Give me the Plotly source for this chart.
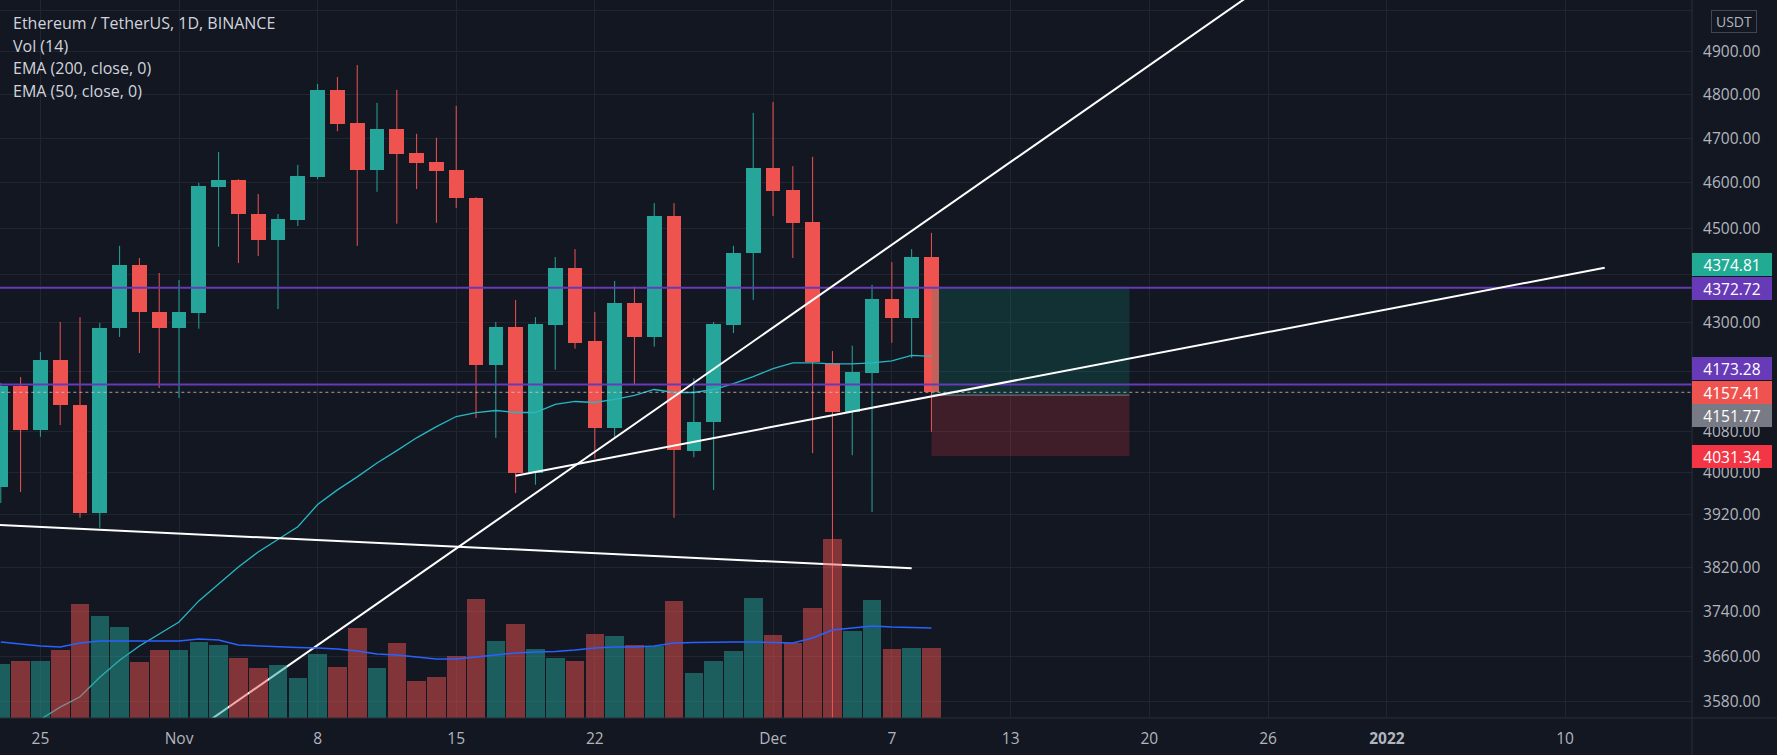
import numpy as np
import pandas as pd
import plotly.graph_objects as go

# ---------------- data ----------------
dates = pd.date_range("2021-10-23", periods=48, freq="D")
opens = [3972, 4170, 4083, 4223, 4132, 3922, 4289, 4421, 4322, 4289,
         4320, 4591, 4606, 4531, 4475, 4518, 4613, 4811, 4735, 4628,
         4721, 4667, 4646, 4628, 4566, 4213, 4291, 3999, 4295, 4415,
         4262, 4087, 4341, 4270, 4527, 4041, 4098, 4295, 4447, 4633,
         4584, 4514, 4217, 4118, 4197, 4349, 4309, 4438]
highs = [4176, 4188, 4239, 4301, 4311, 4299, 4462, 4436, 4404, 4389,
         4600, 4669, 4608, 4575, 4531, 4640, 4825, 4841, 4869, 4781,
         4811, 4710, 4701, 4774, 4568, 4301, 4347, 4311, 4438, 4455,
         4322, 4387, 4375, 4555, 4555, 4186, 4301, 4462, 4758, 4783,
         4637, 4658, 4241, 4252, 4379, 4427, 4455, 4490]
lows = [3941, 3962, 4069, 4092, 3913, 3894, 4270, 4237, 4166, 4146,
        4287, 4460, 4425, 4440, 4328, 4505, 4608, 4716, 4462, 4580,
        4510, 4586, 4512, 4544, 4106, 4067, 3960, 3976, 4203, 4246,
        4027, 4069, 4172, 4250, 3913, 4029, 3966, 4278, 4347, 4527,
        4436, 4037, 3500, 4033, 3924, 4258, 4227, 4079]
closes = [4170, 4083, 4223, 4132, 3922, 4289, 4421, 4322, 4289, 4322,
          4593, 4606, 4531, 4475, 4520, 4615, 4811, 4733, 4628, 4721,
          4665, 4644, 4626, 4566, 4213, 4291, 3999, 4297, 4415, 4258,
          4087, 4341, 4270, 4527, 4043, 4098, 4297, 4447, 4633, 4582,
          4512, 4219, 4118, 4199, 4349, 4309, 4438, 4157.41]
volumes = [324000, 342000, 342000, 408000, 684000, 612000, 546000, 336000, 408000, 408000,
           456000, 438000, 360000, 300000, 318000, 240000, 384000, 306000, 540000, 300000,
           450000, 222000, 246000, 372000, 714000, 462000, 564000, 414000, 360000, 342000,
           504000, 492000, 438000, 432000, 702000, 270000, 342000, 402000, 720000, 498000,
           450000, 660000, 1074000, 522000, 708000, 414000, 420000, 420000]
vol_ma = [456000, 444000, 432000, 426000, 450000, 462000, 462000, 462000, 462000, 462000,
          474000, 468000, 438000, 432000, 426000, 423000, 420000, 414000, 402000, 384000,
          378000, 366000, 354000, 354000, 366000, 378000, 390000, 396000, 399000, 408000,
          420000, 426000, 426000, 432000, 450000, 453000, 456000, 456000, 456000, 453000,
          450000, 480000, 528000, 540000, 552000, 546000, 543000, 540000]
ema50 = [3515, 3532, 3550, 3571, 3589, 3623, 3653, 3678, 3699, 3721,
         3759, 3790, 3821, 3849, 3872, 3896, 3938, 3966, 3991, 4018,
         4042, 4067, 4089, 4109, 4117, 4121, 4117, 4117, 4133, 4139,
         4137, 4143, 4151, 4163, 4157, 4157, 4163, 4175, 4189, 4205,
         4217, 4217, 4215, 4215, 4217, 4221, 4232, 4230]

# horizontal levels / position tool
level_top = 4372.72
level_bottom = 4173.28
last_price = 4157.41
pos_entry = 4151.77
pos_target = 4374.81
pos_stop = 4031.34
pos_dates = ["2021-12-09", "2021-12-19"]

# trend line anchors
lineA_dates = ["2021-11-01", "2021-12-26"]
lineA_prices = [3512, 5067]
lineB_dates = ["2021-11-18", "2022-01-12"]
lineB_prices = [3993, 4415]
lineC_dates = ["2021-10-22", "2021-12-08"]
lineC_prices = [3901, 3819]

# axis ticks
x_tickdates = ["2021-10-25", "2021-11-01", "2021-11-08", "2021-11-15", "2021-11-22",
               "2021-12-01", "2021-12-07", "2021-12-13", "2021-12-20", "2021-12-26",
               "2022-01-01", "2022-01-10"]
x_ticktext = ["25", "Nov", "8", "15", "22", "Dec", "7", "13", "20", "26", "<b>2022</b>", "10"]
y_tickvals = [5000, 4900, 4800, 4700, 4600, 4500, 4400, 4300, 4200, 4080, 4000,
              3920, 3820, 3740, 3660, 3580]
y_hidden = [4400, 4200]

# ---------------- style ----------------
UP = "#26a69a"
DN = "#ef5350"
BG = "#131722"
GRID = "#212530"
TXT = "#b2b5be"
PURPLE = "#673ab7"
FONT = "Open Sans"
W, H = 1777, 755
ML, MR, MT, MB = 0, 85, 0, 37
plot_h = H - MT - MB

is_up = [c >= o for o, c in zip(opens, closes)]
DAY_MS = 86400000

fig = go.Figure()

# position tool boxes
p0, p1 = pd.Timestamp(pos_dates[0]), pd.Timestamp(pos_dates[1])
fig.add_trace(go.Scatter(x=[p0, p1, p1, p0, p0], y=[pos_entry, pos_entry, pos_target, pos_target, pos_entry],
                         fill="toself", fillcolor="rgba(8,153,129,0.2)", mode="lines",
                         line=dict(width=0), hoverinfo="skip"))
fig.add_trace(go.Scatter(x=[p0, p1, p1, p0, p0], y=[pos_stop, pos_stop, pos_entry, pos_entry, pos_stop],
                         fill="toself", fillcolor="rgba(242,54,69,0.2)", mode="lines",
                         line=dict(width=0), hoverinfo="skip"))
fig.add_trace(go.Scatter(x=[p0, p1], y=[pos_entry, pos_entry], mode="lines",
                         line=dict(color="#787b86", width=1), hoverinfo="skip"))

# candle wicks
for flag, col in ((True, UP), (False, DN)):
    wx, wy = [], []
    for d, h, l, u in zip(dates, highs, lows, is_up):
        if u == flag:
            wx += [d, d, None]
            wy += [l, h, None]
    fig.add_trace(go.Scatter(x=wx, y=wy, mode="lines", line=dict(color=col, width=1),
                             hoverinfo="skip", connectgaps=False))

# candle bodies
body_base = [min(o, c) for o, c in zip(opens, closes)]
body_h = [abs(c - o) for o, c in zip(opens, closes)]
fig.add_trace(go.Bar(x=dates, y=body_h, base=body_base, width=0.74 * DAY_MS,
                     marker=dict(color=[UP if u else DN for u in is_up], line=dict(width=0)),
                     hoverinfo="skip"))

# EMA 50
fig.add_trace(go.Scatter(x=dates, y=ema50, mode="lines", line=dict(color="#26b8c4", width=1.3),
                         hoverinfo="skip"))

# horizontal levels
far = [pd.Timestamp("2021-10-10"), pd.Timestamp("2022-02-01")]
for lv in (level_top, level_bottom):
    fig.add_trace(go.Scatter(x=far, y=[lv, lv], mode="lines", line=dict(color=PURPLE, width=2),
                             hoverinfo="skip"))
fig.add_trace(go.Scatter(x=far, y=[last_price, last_price], mode="lines",
                         line=dict(color="rgba(225,200,205,0.75)", width=1, dash="dot"),
                         hoverinfo="skip"))

# trend lines
for ld, lp in ((lineA_dates, lineA_prices), (lineB_dates, lineB_prices), (lineC_dates, lineC_prices)):
    fig.add_trace(go.Scatter(x=pd.to_datetime(ld), y=lp, mode="lines",
                             line=dict(color="#ffffff", width=2), hoverinfo="skip"))

# volume (overlay pane)
fig.add_trace(go.Bar(x=dates, y=volumes, width=0.94 * DAY_MS, yaxis="y2",
                     marker=dict(color=["rgba(38,166,154,0.5)" if u else "rgba(239,83,80,0.5)" for u in is_up],
                                 line=dict(width=0)),
                     hoverinfo="skip"))
fig.add_trace(go.Scatter(x=dates, y=vol_ma, yaxis="y2", mode="lines",
                         line=dict(color="#2962ff", width=1.5), hoverinfo="skip"))

# ---------------- layout ----------------
y_lo, y_hi = 3552.4, 5024.4
vol_top = 718 * 6000

ann = []
legend_lines = ["Ethereum / TetherUS, 1D, BINANCE", "Vol (14)", "EMA (200, close, 0)", "EMA (50, close, 0)"]
for k, t in enumerate(legend_lines):
    ann.append(dict(text=t, xref="paper", yref="paper", x=0, xshift=11, xanchor="left",
                    y=1 - (23 + 22.7 * k) / plot_h, yanchor="middle", showarrow=False,
                    font=dict(family=FONT, size=16, color="#d1d4dc")))

labels = [(pos_target, "#22ab94", 22), (level_top, PURPLE, -1), (level_bottom, PURPLE, 16),
          (last_price, DN, 0), (pos_entry, "#787b86", -20), (pos_stop, "#f23645", 0)]
for val, col, sh in labels:
    ann.append(dict(text=f"{val:.2f}", xref="paper", yref="y", x=1, xanchor="left",
                    y=np.log10(val), yanchor="middle", yshift=sh, showarrow=False,
                    width=80, height=23, bgcolor=col, borderpad=0, borderwidth=0,
                    font=dict(family=FONT, size=15.5, color="#ffffff")))

ann.append(dict(text="USDT", xref="paper", yref="paper", x=1, xshift=19, xanchor="left",
                y=1 - 21.5 / plot_h, yanchor="middle", showarrow=False, width=44, height=21,
                bgcolor=BG, bordercolor="#434651", borderwidth=1, borderpad=0,
                font=dict(family=FONT, size=14, color=TXT)))

fig.update_layout(
    width=W, height=H, autosize=False,
    margin=dict(l=ML, r=MR, t=MT, b=MB),
    paper_bgcolor=BG, plot_bgcolor=BG,
    showlegend=False, barmode="overlay", bargap=0,
    font=dict(family=FONT, color=TXT),
    xaxis=dict(type="date",
               range=[pd.Timestamp("2021-10-23") - pd.Timedelta(minutes=58),
                      pd.Timestamp("2022-01-16 09:50")],
               tickmode="array", tickvals=pd.to_datetime(x_tickdates), ticktext=x_ticktext,
               showgrid=True, gridcolor=GRID, gridwidth=1, zeroline=False,
               ticks="outside", ticklen=6, tickcolor=BG,
               tickfont=dict(family=FONT, size=15.5, color=TXT), showline=False,
               rangeslider=dict(visible=False), fixedrange=True),
    yaxis=dict(type="log", side="right", range=[np.log10(y_lo), np.log10(y_hi)],
               tickmode="array", tickvals=y_tickvals,
               ticktext=["" if v in y_hidden else f"{v:.2f}" for v in y_tickvals],
               showgrid=True, gridcolor=GRID, gridwidth=1, zeroline=False,
               ticks="outside", ticklen=6, tickcolor=BG, ticklabelstandoff=1,
               tickfont=dict(family=FONT, size=15.5, color=TXT), showline=False),
    yaxis2=dict(overlaying="y", side="right", range=[0, vol_top], visible=False,
                showgrid=False, zeroline=False),
    annotations=ann,
    shapes=[
        dict(type="line", xref="paper", yref="paper", x0=1, x1=1, y0=-MB / plot_h, y1=1,
             line=dict(color="#2a2e39", width=1)),
        dict(type="line", xref="paper", yref="paper", x0=0, x1=W / (W - MR), y0=0, y1=0,
             line=dict(color="#2a2e39", width=1)),
    ],
)

fig.write_html("out.html", config={"displayModeBar": False},
               post_script="document.body.style.margin='0px';document.body.style.overflow='hidden';")
